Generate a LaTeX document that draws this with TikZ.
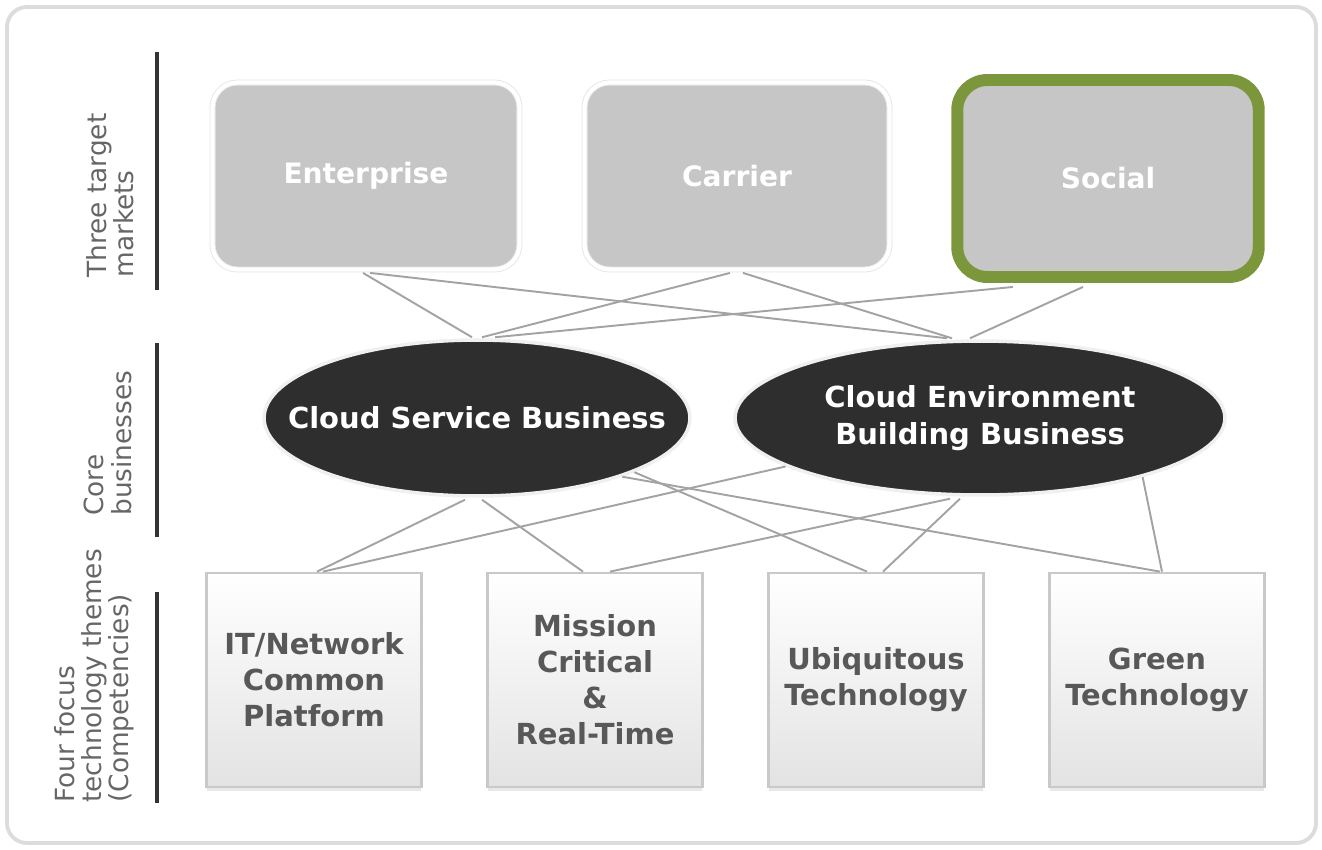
\documentclass[tikz,border=0pt]{standalone}
\usepackage{fontspec}
\setmainfont{DejaVu Sans}
\usepackage{tikz}
\usetikzlibrary{calc,shapes.geometric,shadows}
\definecolor{framegray}{HTML}{DCDCDC}
\definecolor{bargray}{HTML}{333333}
\definecolor{sidegray}{HTML}{666666}
\definecolor{marketgray}{HTML}{C6C6C6}
\definecolor{coregray}{HTML}{2E2E2E}
\definecolor{themegray}{HTML}{585858}
\definecolor{linkgray}{HTML}{A3A3A3}
\definecolor{pick}{HTML}{7B963B}
\tikzset{
  side/.style={rotate=90, anchor=west, align=left, inner sep=0pt, text=sidegray, font=\fontsize{15}{15.5}\selectfont},
  sideBar/.style={line width=2.6pt, draw=bargray},
  market/.style={rectangle, fill=marketgray, text=white, minimum height=3.74cm, font=\bfseries\fontsize{16}{19}\selectfont},
  ring/.style={rounded corners=0.5cm, draw=gray!20, double=white, double distance=2.4pt, line width=0.5pt},
  picked/.style={rounded corners=0.6cm, draw=pick, line width=6.8pt},
  core/.style={ellipse, fill=coregray, draw=gray!12, line width=2pt, inner sep=0pt},
  coreText/.style={align=center, inner sep=0pt, text=white, font=\bfseries\fontsize{16.5}{21}\selectfont},
  theme/.style={rectangle, top color=white, bottom color=gray!22, draw=gray!42, line width=1.6pt, minimum width=4.3cm, minimum height=4.28cm, align=center, text=themegray, font=\bfseries\fontsize{16.5}{20.5}\selectfont, drop shadow={shadow xshift=0pt, shadow yshift=-2pt, opacity=0.18}},
  link/.style={draw=linkgray, line width=1.1pt}
}
\begin{document}
\begin{tikzpicture}[x=0.02cm, y=-0.02cm]
\useasboundingbox (0,0) rectangle (1322,849);
\draw[framegray, line width=2.2pt, rounded corners=0.4cm] (7,7) rectangle (1316,843);

% side labels
\node[side] (lab1) at (110,278) {Three target\\markets};
\node[side] (lab2) at (108,516) {Core\\businesses};
\node[side] (lab3) at (94,803) {Four focus\\technology themes\\(Competencies)};
\draw[sideBar] (157,52) -- (157,290);
\draw[sideBar] (157,343) -- (157,537);
\draw[sideBar] (157,592) -- (157,803);

% three target markets
\node[market, ring, minimum width=6.14cm] (ent) at (366,176) {Enterprise};
\node[market, ring, minimum width=6.1cm] (car) at (737,176) {Carrier};
\node[market, picked, minimum width=6.03cm, minimum height=3.94cm] (soc) at (1108,178.5) {Social};

% core businesses
\node[core, minimum width=8.52cm, minimum height=3.12cm] (csb) at (477,418) {};
\node[coreText] (csbText) at (csb) {Cloud Service Business};
\node[core, minimum width=9.8cm, minimum height=3.08cm] (ceb) at (980,418) {};
\node[coreText] (cebText) at (ceb) {Cloud Environment\\Building Business};

% four focus technology themes
\node[theme] (itn) at (314,680) {IT/Network\\Common\\Platform};
\node[theme] (mcr) at (595,680) {Mission\\Critical\\\&\\Real-Time};
\node[theme] (ubi) at (876,680) {Ubiquitous\\Technology};
\node[theme] (grn) at (1157,680) {Green\\Technology};

% markets to businesses
\draw[link] ($(ent.south)+(-3,3)$) -- ($(csb.north)+(-5,-1)$);
\draw[link] ($(ent.south)+(4,3)$) -- ($(ceb.north)+(-33,-1)$);
\draw[link] ($(car.south)+(-7,3)$) -- ($(csb.north)+(5,-1)$);
\draw[link] ($(car.south)+(6,3)$) -- ($(ceb.north)+(-28,-1)$);
\draw[link] ($(soc.south)+(-95,4)$) -- ($(csb.north)+(18,-1)$);
\draw[link] ($(soc.south)+(-25,4)$) -- ($(ceb.north)+(-10,-1)$);

% businesses to themes
\draw[link] ($(csb.south)+(-12,2)$) -- ($(itn.north)+(3,0)$);
\draw[link] ($(csb.south)+(5,2)$) -- ($(mcr.north)+(-12,0)$);
\draw[link] (csb.-19) -- ($(ubi.north)+(-9,0)$);
\draw[link] (csb.-22) -- ($(grn.north)+(3,0)$);
\draw[link] (ceb.194) -- ($(itn.north)+(9,0)$);
\draw[link] ($(ceb.south)+(-30,2)$) -- ($(mcr.north)+(15,0)$);
\draw[link] ($(ceb.south)+(-20,2)$) -- ($(ubi.north)+(7,0)$);
\draw[link] (ceb.-20) -- ($(grn.north)+(5,0)$);
\end{tikzpicture}
\end{document}
